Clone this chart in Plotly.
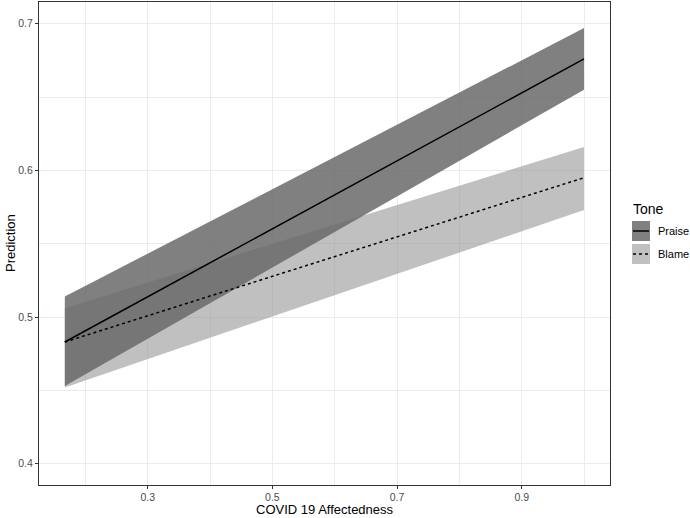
import plotly.graph_objects as go

# ---- data ----
x_vals = [0.167, 1.0]
praise_fit = [0.483, 0.676]
praise_lo = [0.453, 0.655]
praise_hi = [0.514, 0.697]
blame_fit = [0.483, 0.595]
blame_lo = [0.452, 0.573]
blame_hi = [0.506, 0.616]
x_ticks = [0.3, 0.5, 0.7, 0.9]
y_ticks = [0.4, 0.5, 0.6, 0.7]
groups = ["Praise", "Blame"]

BLAME_FILL = "rgba(150,150,150,0.6)"
PRAISE_FILL = "rgba(104,104,104,0.84)"
FONT = "Liberation Sans, Arial, sans-serif"

fig = go.Figure()

# Blame ribbon
fig.add_trace(go.Scatter(x=x_vals, y=blame_lo, mode="lines", line=dict(width=0),
                         showlegend=False, hoverinfo="skip"))
fig.add_trace(go.Scatter(x=x_vals, y=blame_hi, mode="lines", line=dict(width=0),
                         fill="tonexty", fillcolor=BLAME_FILL, showlegend=False, hoverinfo="skip"))
# Praise ribbon
fig.add_trace(go.Scatter(x=x_vals, y=praise_lo, mode="lines", line=dict(width=0),
                         showlegend=False, hoverinfo="skip"))
fig.add_trace(go.Scatter(x=x_vals, y=praise_hi, mode="lines", line=dict(width=0),
                         fill="tonexty", fillcolor=PRAISE_FILL, showlegend=False, hoverinfo="skip"))
# Lines
fig.add_trace(go.Scatter(x=x_vals, y=praise_fit, mode="lines", name=groups[0],
                         line=dict(color="black", width=1.5), showlegend=False))
fig.add_trace(go.Scatter(x=x_vals, y=blame_fit, mode="lines", name=groups[1],
                         line=dict(color="black", width=1.5, dash="3px,3px"), showlegend=False))

grid = "#ebebeb"
fig.update_xaxes(
    range=[0.1256, 1.0417], tickmode="array", tickvals=x_ticks,
    ticktext=[f"{v:.1f}" for v in x_ticks],
    showgrid=True, gridcolor=grid, gridwidth=1.1,
    minor=dict(tickmode="array", tickvals=[0.2, 0.4, 0.6, 0.8, 1.0], showgrid=True,
               gridcolor=grid, gridwidth=0.6, ticks=""),
    ticks="outside", ticklen=3, tickwidth=1, tickcolor="#333333",
    showline=True, linecolor="#333333", linewidth=1, mirror=True,
    zeroline=False, ticklabelstandoff=-1,
    tickfont=dict(family=FONT, size=10.5, color="#4d4d4d"),
)
fig.update_yaxes(
    range=[0.3855, 0.7148], tickmode="array", tickvals=y_ticks,
    ticktext=[f"{v:.1f}" for v in y_ticks],
    showgrid=True, gridcolor=grid, gridwidth=1.1,
    minor=dict(tickmode="array", tickvals=[0.45, 0.55, 0.65], showgrid=True,
               gridcolor=grid, gridwidth=0.6, ticks=""),
    ticks="outside", ticklen=3, tickwidth=1, tickcolor="#333333",
    showline=True, linecolor="#333333", linewidth=1, mirror=True,
    zeroline=False,
    tickfont=dict(family=FONT, size=10.5, color="#4d4d4d"),
)

W, H = 690, 518
L, R, T, B = 39, 80, 2, 33
pw, ph = W - L - R, H - T - B


def px(xp):
    return (xp - L) / pw


def py(yp):
    return (H - B - yp) / ph


# Manual legend
shapes = []
legend_items = [(groups[0], "rgb(128,128,128)", "solid", 231),
                (groups[1], "rgb(192,192,192)", "3px,3px", 254)]
for name, col, dash, cy in legend_items:
    shapes.append(dict(type="rect", xref="paper", yref="paper",
                       x0=px(632), x1=px(650), y0=py(cy + 10), y1=py(cy - 10),
                       fillcolor=col, line=dict(width=0), layer="above"))
    shapes.append(dict(type="line", xref="paper", yref="paper",
                       x0=px(633), x1=px(649), y0=py(cy), y1=py(cy),
                       line=dict(color="black", width=1.5, dash=dash), layer="above"))

ann = [dict(x=px(631), y=py(209), xref="paper", yref="paper", text="Tone",
            showarrow=False, xanchor="left", yanchor="middle",
            font=dict(family=FONT, size=14, color="black"))]
for name, col, dash, cy in legend_items:
    ann.append(dict(x=px(656), y=py(cy), xref="paper", yref="paper", text=name,
                    showarrow=False, xanchor="left", yanchor="middle",
                    font=dict(family=FONT, size=11, color="black")))
# Axis titles
ann.append(dict(x=px(325), y=py(510), xref="paper", yref="paper",
                text="COVID 19 Affectedness", showarrow=False,
                xanchor="center", yanchor="middle",
                font=dict(family=FONT, size=13, color="black")))
ann.append(dict(x=px(10), y=py(243), xref="paper", yref="paper",
                text="Prediction", showarrow=False, textangle=-90,
                xanchor="center", yanchor="middle",
                font=dict(family=FONT, size=13, color="black")))

fig.update_layout(
    width=W, height=H,
    margin=dict(l=L, r=R, t=T, b=B, autoexpand=False),
    plot_bgcolor="white", paper_bgcolor="white",
    shapes=shapes, annotations=ann, showlegend=False,
)

fig.write_html("out.html", config={"displayModeBar": False},
               post_script="document.body.style.margin='0';document.body.style.padding='0';")
